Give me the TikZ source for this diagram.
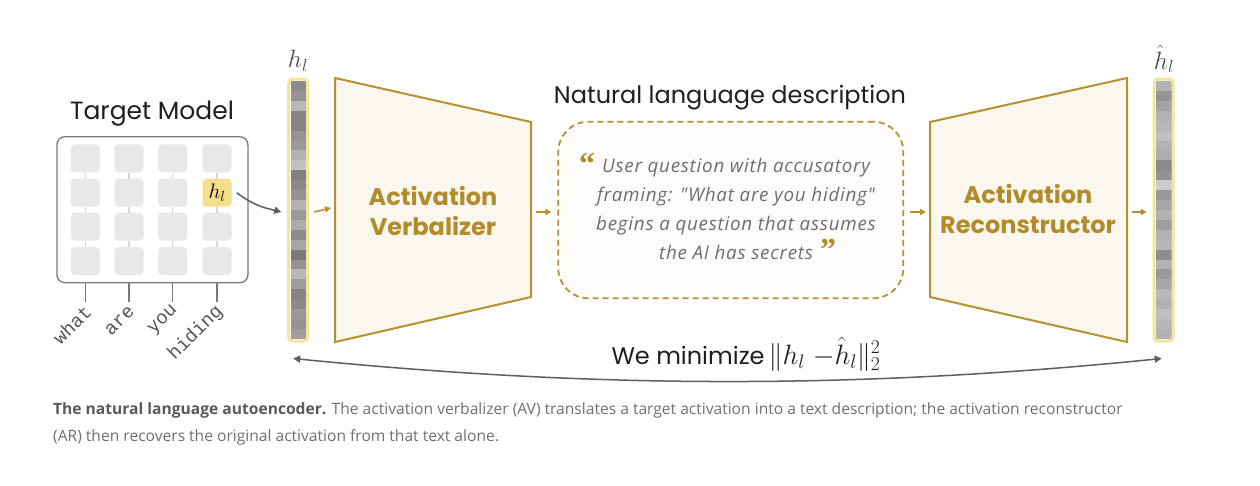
\RequirePackage{fix-cm}
\documentclass[tikz,border=0pt]{standalone}
\usepackage{fontspec}
\usetikzlibrary{arrows.meta}
\newfontfamily\lblfont{Poppins}
\newfontfamily\descfont[LetterSpace=4]{Open Sans}
\newfontfamily\capfont{Open Sans}
\newfontfamily\quotefont{Liberation Serif}
\newfontfamily\wordfont{Liberation Mono}
\definecolor{gold}{HTML}{B8902F}
\definecolor{goldtxt}{HTML}{B38B2B}
\definecolor{cream}{HTML}{FCF7EE}
\definecolor{descfill}{HTML}{FDFCFA}
\definecolor{hlyellow}{HTML}{F6DF8C}
\definecolor{baryellow}{HTML}{F7E39C}
\definecolor{cellgray}{HTML}{E8E8E8}
\definecolor{linkgray}{HTML}{D6D6D6}
\definecolor{boxgray}{HTML}{7A7A7A}
\definecolor{arrowgray}{HTML}{5E5E5E}
\definecolor{desctxt}{HTML}{6E6E6E}
\definecolor{captxt}{HTML}{707070}
\definecolor{capbold}{HTML}{595959}
\definecolor{wordtxt}{HTML}{555555}
\begin{document}
\begin{tikzpicture}[x=1pt,y=-1pt,
  cell/.style={minimum width=29pt,minimum height=28pt,inner sep=0pt,rounded corners=4pt,fill=cellgray},
  wordlbl/.style={font=\wordfont\fontsize{19}{20}\selectfont,text=wordtxt,rotate=45,anchor=east,inner sep=0pt},
  tickline/.style={draw=boxgray,line width=1.3pt},
  barbox/.style={draw=baryellow,line width=3pt,rounded corners=4pt,minimum width=19pt,minimum height=262pt,inner sep=0pt},
  trap/.style={draw=gold,fill=cream,line width=2pt,line join=miter},
  garrow/.style={draw=gold,line width=1.6pt,-{Triangle[length=6pt,width=6pt]}},
  darrow/.style={draw=arrowgray,line width=1.5pt},
  boldgold/.style={font=\lblfont\bfseries\fontsize{24}{30}\selectfont,text=goldtxt,align=center},
  title/.style={font=\lblfont\fontsize{24}{28}\selectfont,text=black!88},
  barlbl/.style={font=\fontsize{25}{27}\selectfont,text=black!70},
  capline/.style={anchor=base west,font=\capfont\fontsize{15.6}{20}\selectfont,text=captxt,inner sep=0pt}
]
\useasboundingbox[fill=white] (0,0) rectangle (1260,485);

% ---------- Target model ----------
\node[title,font=\lblfont\fontsize{25}{28}\selectfont] (tmtitle) at (152,114) {Target Model};
\node[draw=boxgray,line width=1.3pt,rounded corners=8pt,minimum width=191pt,minimum height=146pt,inner sep=0pt] (tm) at (152.4,209.7) {};
\foreach \i/\x in {1/85.3,2/129,3/172.7,4/217}{
  \foreach \j/\y in {1/158.3,2/192.7,3/226.7,4/261}{
    \ifnum\numexpr\i*10+\j\relax=42\relax
      \node[cell,fill=hlyellow,font=\fontsize{21}{22}\selectfont] (c-\i-\j) at (\x,\y) {$h_l$};
    \else
      \node[cell] (c-\i-\j) at (\x,\y) {};
    \fi
  }
}
\foreach \i in {1,...,4}{
  \draw[linkgray,line width=1.2pt] (c-\i-1.south) -- (c-\i-2.north);
  \draw[linkgray,line width=1.2pt] (c-\i-2.south) -- (c-\i-3.north);
  \draw[linkgray,line width=1.2pt] (c-\i-3.south) -- (c-\i-4.north);
}
\foreach \i/\w in {1/what,2/are,3/you,4/hiding}{
  \coordinate (tk\i) at ([yshift=-19pt]tm.south -| c-\i-4);
  \draw[tickline] (tm.south -| c-\i-4) -- (tk\i);
  \node[wordlbl] (w\i) at ([xshift=3pt,yshift=-6pt]tk\i) {\w};
}

% ---------- h_l bar ----------
\foreach \g [count=\k] in {45,42,28,48,48,42,40,30,24,50,46,42,30,40,32,45,35,52,42,28,38,48,46,40,42,38}{
  \fill[black!\g] (290.5,{81+(\k-1)*9.92}) rectangle ++(15.5,9.92);
}
\node[barbox] (hbar) at (298.2,210) {};
\node[barlbl] (hlbl) at (298,61) {$h_l$};

% ---------- Activation Verbalizer ----------
\draw[trap] (335,78) -- (531,122) -- (531,297) -- (335,342) -- cycle;
\coordinate (av-w) at (335,208);
\coordinate (av-e) at (531,212);
\node[boldgold] (avtxt) at (433,211) {Activation\\Verbalizer};

% ---------- description ----------
\node[title] (desctitle) at (730,98) {Natural language description};
\node[draw=gold,fill=descfill,dashed,dash pattern=on 6pt off 4pt,line width=1.8pt,rounded corners=30pt,minimum width=345pt,minimum height=176.6pt,inner sep=0pt] (desc) at (730.8,210) {};
\node[font=\descfont\itshape\fontsize{18.8}{29}\selectfont,text=desctxt,align=center] (desctxt) at (736,209)
  {User question with accusatory\\framing: "What are you hiding"\\begins a question that assumes\\the AI has secrets};
\node[font=\quotefont\bfseries\fontsize{32}{32}\selectfont,text=goldtxt] (oq) at (587,164) {“};
\node[font=\quotefont\bfseries\fontsize{32}{32}\selectfont,text=goldtxt] (cq) at (828,250) {”};

% ---------- Activation Reconstructor ----------
\draw[trap] (930,122) -- (1127,78) -- (1127,342) -- (930,297) -- cycle;
\coordinate (ar-w) at (930,212);
\coordinate (ar-e) at (1127,212);
\node[boldgold] (artxt) at (1028,209) {Activation\\Reconstructor};

% ---------- h_l hat bar ----------
\foreach \g [count=\k] in {30,42,36,30,28,25,30,32,46,43,20,40,35,30,38,30,28,45,30,40,35,28,30,25,28,30}{
  \fill[black!\g] (1156,{81+(\k-1)*9.92}) rectangle ++(15.5,9.92);
}
\node[barbox] (hhbar) at (1163.7,210) {};
\node[barlbl] (hhlbl) at (1164,59) {$\hat{h}_l$};

% ---------- connectors ----------
\draw[darrow,-{Triangle[length=7pt,width=7pt]}] ([xshift=5pt]c-4-2.east) .. controls (256,207) and (266,208) .. ([xshift=-6pt,yshift=-2pt]hbar.west);
\draw[garrow] ([xshift=5pt,yshift=-2pt]hbar.east) -- ([xshift=-4pt]av-w);
\draw[garrow] ([xshift=5pt]av-e) -- ([xshift=-6pt]desc.west |- av-e);
\draw[garrow] ([xshift=6pt]desc.east |- ar-w) -- ([xshift=-4pt]ar-w);
\draw[garrow] ([xshift=5pt]ar-e) -- ([xshift=-6pt]hhbar.west |- ar-e);

% ---------- loss ----------
\coordinate (la) at ([xshift=-5pt,yshift=-16pt]hbar.south);
\coordinate (ra) at ([xshift=-2pt,yshift=-16pt]hhbar.south);
\draw[darrow,{Triangle[length=7pt,width=7pt]}-{Triangle[length=7pt,width=7pt]}] (la) .. controls (600,389) and (860,389) .. (ra);
\node[anchor=base,text=black!88,inner sep=0pt] (loss) at (746,364)
  {\lblfont\fontsize{24}{28}\selectfont We minimize\,\fontsize{28}{30}\selectfont$\|h_l\;{-}\hat{h}_l\|_2^2$};

% ---------- caption ----------
\node[capline] (cap1) at (53,414)
  {{\bfseries\color{capbold}The natural language autoencoder.} The activation verbalizer (AV) translates a target activation into a text description; the activation reconstructor};
\node[capline] (cap2) at (53,441)
  {(AR) then recovers the original activation from that text alone.};
\end{tikzpicture}
\end{document}
